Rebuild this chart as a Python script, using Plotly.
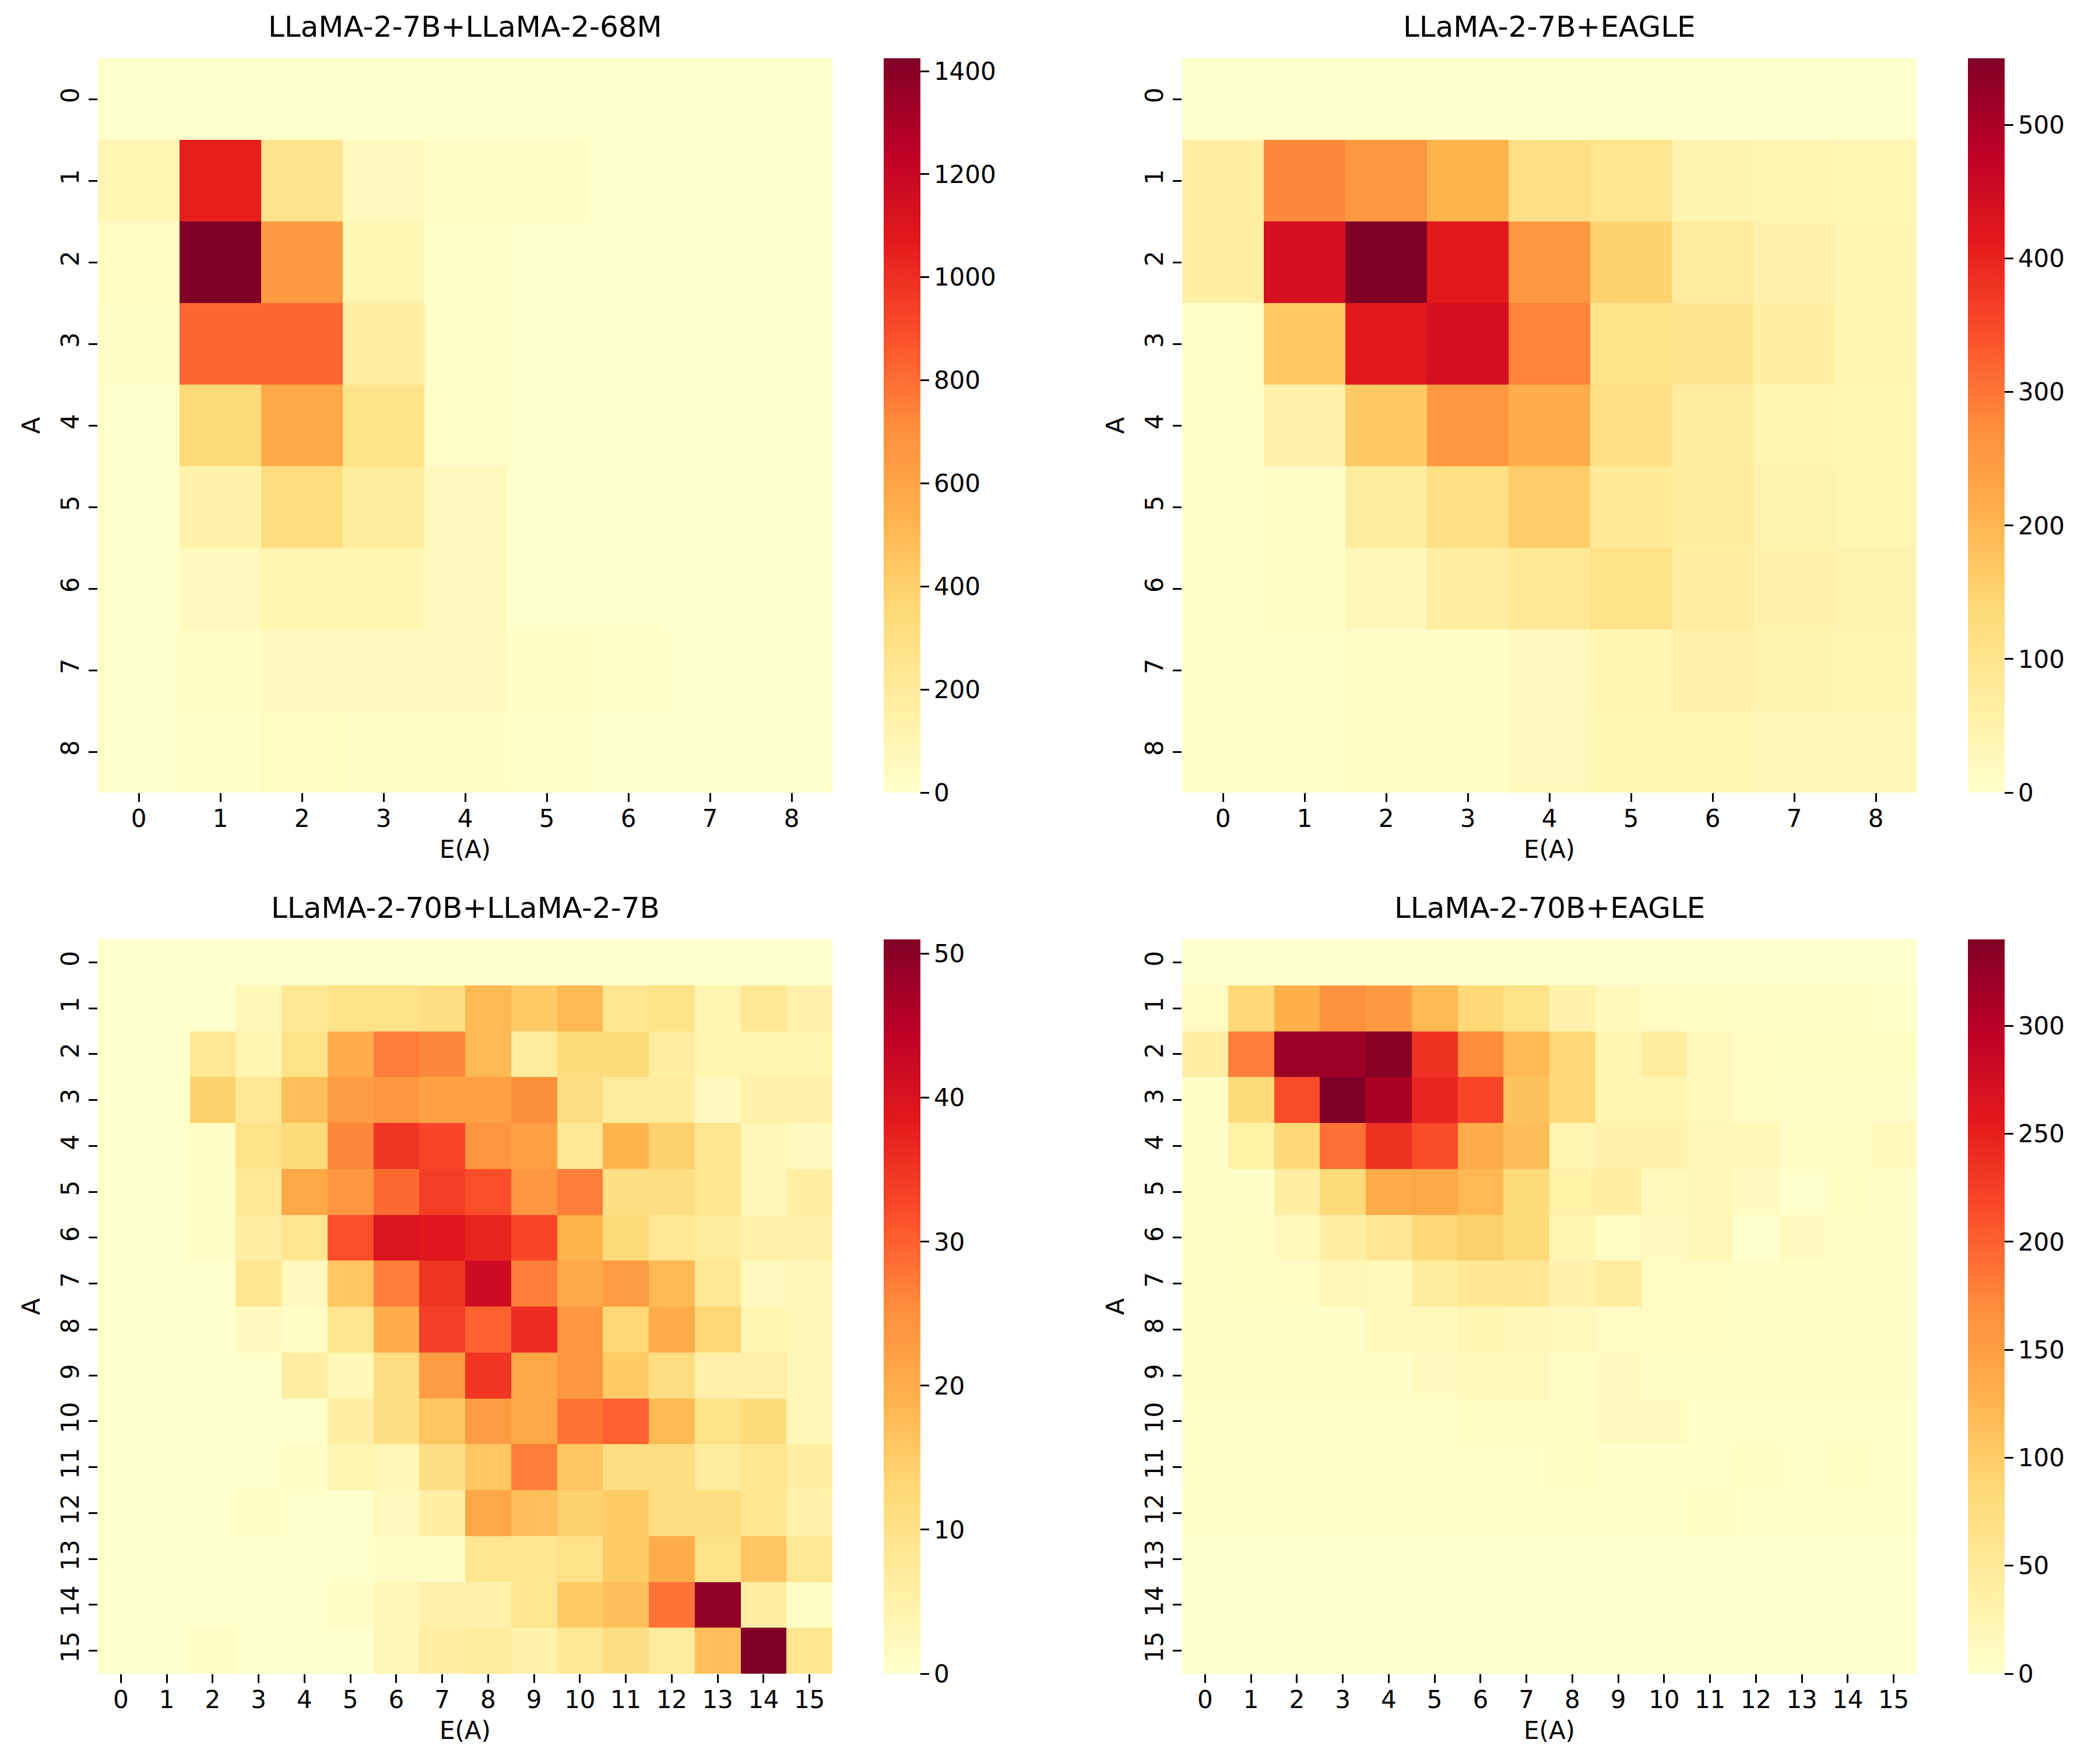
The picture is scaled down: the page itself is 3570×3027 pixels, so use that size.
import plotly.graph_objects as go

# acceptance-length heatmaps: rows = A, columns = E(A)
titles = ["LLaMA-2-7B+LLaMA-2-68M", "LLaMA-2-7B+EAGLE",
          "LLaMA-2-70B+LLaMA-2-7B", "LLaMA-2-70B+EAGLE"]

llama7b_68m = [
    [0, 0, 0, 0, 0, 0, 0, 0, 0],
    [90, 1050, 260, 60, 30, 25, 0, 0, 0],
    [40, 1425, 650, 90, 12, 10, 8, 5, 5],
    [25, 820, 820, 170, 15, 8, 5, 5, 5],
    [10, 350, 580, 270, 15, 8, 5, 5, 5],
    [8, 130, 320, 190, 60, 8, 5, 5, 5],
    [5, 60, 110, 110, 60, 8, 5, 5, 5],
    [5, 30, 60, 60, 60, 20, 15, 5, 5],
    [10, 15, 40, 25, 20, 15, 10, 3, 3],
]

llama7b_eagle = [
    [0, 0, 0, 0, 0, 0, 0, 0, 0],
    [60, 280, 255, 205, 110, 95, 45, 40, 35],
    [60, 440, 550, 415, 255, 150, 75, 50, 40],
    [5, 165, 415, 440, 285, 105, 100, 60, 40],
    [5, 55, 165, 255, 215, 110, 75, 40, 35],
    [5, 10, 70, 115, 160, 80, 70, 45, 35],
    [5, 8, 30, 65, 85, 105, 65, 50, 45],
    [5, 5, 8, 8, 25, 40, 55, 45, 40],
    [5, 5, 10, 8, 25, 35, 35, 30, 30],
]

llama70b_7b = [
    [0, 0, 0, 0, 0, 0, 0, 0, 0, 0, 0, 0, 0, 0, 0, 0],
    [0, 0, 0, 3, 8, 10, 10, 11, 18, 15, 18, 9, 10, 4, 8, 5],
    [0, 0, 8, 4, 10, 20, 27, 26, 18, 7, 12, 12, 6, 4, 4, 4],
    [0, 0, 14, 8, 17, 23, 24, 22, 22, 25, 11, 7, 7, 2, 5, 5],
    [0, 0, 1, 10, 12, 26, 35, 33, 24, 22, 8, 19, 14, 9, 3, 2],
    [0, 0, 1, 8, 21, 24, 29, 34, 32, 24, 27, 11, 11, 9, 3, 6],
    [0, 0, 1, 6, 9, 32, 40, 39, 37, 33, 19, 12, 8, 7, 5, 5],
    [0, 0, 0, 9, 2, 16, 27, 35, 42, 27, 21, 23, 18, 8, 2, 3],
    [0, 0, 0, 2, 1, 9, 20, 34, 30, 36, 24, 13, 20, 13, 4, 3],
    [0, 0, 0, 0, 6, 3, 11, 23, 35, 21, 24, 15, 11, 5, 5, 3],
    [0, 0, 0, 0, 0, 6, 11, 16, 23, 21, 28, 30, 18, 10, 12, 3],
    [0, 0, 0, 0, 1, 4, 3, 11, 16, 27, 16, 11, 11, 7, 9, 6],
    [0, 0, 0, 1, 0, 0, 2, 6, 21, 17, 14, 15, 11, 11, 9, 5],
    [0, 0, 0, 0, 0, 0, 1, 1, 9, 9, 10, 15, 20, 10, 16, 8],
    [0, 0, 0, 0, 0, 1, 3, 5, 5, 9, 15, 17, 28, 49, 6, 1],
    [0, 0, 1, 0, 0, 0, 3, 6, 7, 5, 8, 11, 7, 17, 51, 9],
]

llama70b_eagle = [
    [0, 0, 0, 0, 0, 0, 0, 0, 0, 0, 0, 0, 0, 0, 0, 0],
    [10, 85, 130, 165, 155, 120, 85, 65, 30, 15, 10, 8, 6, 5, 5, 4],
    [40, 180, 320, 320, 335, 235, 170, 120, 85, 25, 45, 15, 10, 8, 8, 8],
    [5, 80, 215, 340, 310, 245, 220, 110, 85, 25, 25, 15, 8, 5, 5, 5],
    [5, 35, 85, 190, 235, 215, 135, 115, 25, 30, 30, 20, 20, 8, 8, 15],
    [5, 5, 40, 80, 135, 140, 120, 80, 35, 40, 15, 20, 12, 0, 8, 5],
    [5, 8, 15, 40, 55, 85, 95, 80, 25, 10, 12, 20, 0, 12, 5, 5],
    [5, 8, 10, 20, 15, 45, 55, 55, 30, 45, 10, 10, 5, 5, 5, 5],
    [5, 5, 5, 5, 15, 15, 25, 20, 15, 10, 10, 10, 5, 5, 5, 5],
    [5, 5, 5, 5, 5, 12, 15, 15, 8, 12, 5, 5, 5, 5, 5, 5],
    [4, 4, 4, 4, 4, 4, 8, 8, 8, 12, 12, 4, 4, 4, 4, 4],
    [4, 4, 4, 4, 4, 4, 4, 4, 8, 4, 4, 4, 8, 4, 8, 4],
    [3, 3, 3, 3, 3, 3, 3, 3, 3, 3, 3, 8, 3, 3, 3, 3],
    [2, 2, 2, 2, 2, 2, 2, 2, 2, 2, 2, 2, 2, 2, 2, 2],
    [2, 2, 2, 2, 2, 2, 2, 2, 2, 2, 2, 2, 2, 2, 2, 2],
    [2, 2, 2, 2, 2, 2, 2, 2, 2, 2, 2, 2, 2, 2, 2, 2],
]

colorbar_ticks = [
    [0, 200, 400, 600, 800, 1000, 1200, 1400],
    [0, 100, 200, 300, 400, 500],
    [0, 10, 20, 30, 40, 50],
    [0, 50, 100, 150, 200, 250, 300],
]

# matplotlib YlOrRd
ylorrd = ["#ffffcc", "#ffeda0", "#fed976", "#feb24c", "#fd8d3c",
          "#fc4e2a", "#e31a1c", "#bd0026", "#800026"]
cscale = [[i / 8, c] for i, c in enumerate(ylorrd)]

W, H = 3570, 3027
FONT = "DejaVu Sans"

# panel boxes in pixels: (left, right, top, bottom)
boxes = [(160, 1420, 92, 1352), (2020, 3280, 92, 1352),
         (160, 1420, 1604, 2864), (2020, 3280, 1604, 2864)]
cbar_left = [1508, 3368, 1508, 3368]

fig = go.Figure()
mats = [llama7b_68m, llama7b_eagle, llama70b_7b, llama70b_eagle]

for i, z in enumerate(mats):
    n = len(z)
    l, r, t, b = boxes[i]
    sfx = "" if i == 0 else str(i + 1)
    zmax = max(max(row) for row in z)
    fig.add_trace(go.Heatmap(
        z=z, x=list(range(n)), y=list(range(n)),
        xaxis="x" + sfx, yaxis="y" + sfx,
        colorscale=cscale, zmin=0, zmax=zmax,
        colorbar=dict(
            x=cbar_left[i] / W, xanchor="left", xpad=0,
            y=1 - (t + b) / 2 / H, yanchor="middle", ypad=0,
            len=(b - t) / H, lenmode="fraction",
            thickness=63, thicknessmode="pixels",
            outlinewidth=0, ticks="outside", ticklen=15, tickwidth=3.3,
            tickcolor="black", tickvals=colorbar_ticks[i],
            tickfont=dict(family=FONT, size=42, color="black"),
        ),
    ))
    axis_common = dict(
        ticks="outside", ticklen=15, tickwidth=3.3, tickcolor="black",
        showgrid=False, zeroline=False, showline=False,
        tickfont=dict(family=FONT, size=42, color="black"),
        tickmode="array", tickvals=list(range(n)),
    )
    fig.update_layout(**{
        "xaxis" + sfx: dict(
            axis_common, domain=[l / W, r / W], range=[-0.5, n - 0.5],
            anchor="y" + sfx, ticklabelstandoff=-7,
            title=dict(text="E(A)", standoff=14,
                       font=dict(family=FONT, size=42, color="black")),
        ),
        "yaxis" + sfx: dict(
            axis_common, domain=[1 - b / H, 1 - t / H], range=[n - 0.5, -0.5],
            anchor="x" + sfx, tickangle=-90,
            title=dict(text="A", standoff=14,
                       font=dict(family=FONT, size=42, color="black")),
        ),
    })
    fig.add_annotation(
        text=titles[i], xref="paper", yref="paper",
        x=(l + r) / 2 / W, y=1 - t / H, xanchor="center", yanchor="bottom",
        yshift=23, showarrow=False,
        font=dict(family=FONT, size=50, color="black"),
    )

fig.update_layout(
    width=W, height=H, margin=dict(l=0, r=0, t=0, b=0),
    paper_bgcolor="white", plot_bgcolor="white", showlegend=False,
)

fig.write_html("out.html")
